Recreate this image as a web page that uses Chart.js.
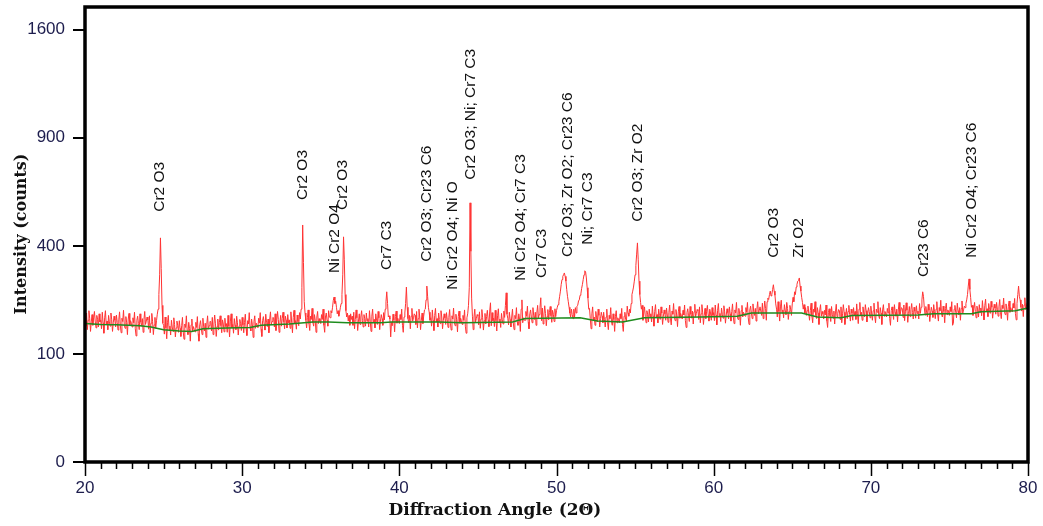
<!DOCTYPE html>
<html>
<head>
<meta charset="utf-8">
<script src="https://cdn.jsdelivr.net/npm/chart.js@4.4.1/dist/chart.umd.min.js"></script>
<style>
  body { margin: 0; background: #fff; }
  canvas { display: block; }
</style>
</head>
<body>
<canvas id="xrd" width="1043" height="526"></canvas>
<script>
// scan: 20..80 deg 2theta, 0.05 deg step
const angleStart = 20;
const angleStep = 0.05;
// measured counts, one row per degree
const counts = [
  180,158,190,150,172,196,176,146,168,186,160,178,194,170,154,184,174,156,188,168,
  172,152,192,166,142,178,196,162,170,150,184,168,158,190,174,146,166,182,172,156,
  185,167,149,173,193,159,143,177,169,197,161,153,181,167,139,175,189,159,171,165,
  156,178,166,192,152,136,172,182,164,150,188,168,158,176,144,174,194,162,170,180,
  173,151,183,143,165,189,169,139,161,179,153,171,187,200,240,300,430,320,210,165,
  160,140,180,154,130,166,184,150,158,138,172,156,146,178,162,134,154,170,160,144,
  171,153,135,159,179,145,129,163,155,183,147,139,167,153,125,161,175,145,157,151,
  145,167,155,181,141,125,161,171,153,139,177,157,147,165,133,163,183,151,159,169,
  169,147,179,139,161,185,165,135,157,175,149,167,183,159,143,173,163,145,177,157,
  164,144,184,158,134,170,188,154,162,142,176,160,150,182,166,138,158,174,164,148,
  179,161,143,167,187,153,137,171,163,191,155,147,175,161,133,169,183,153,165,159,
  155,177,165,191,151,135,171,181,163,149,187,167,157,175,143,173,193,161,169,179,
  178,156,188,148,170,194,174,144,166,184,158,176,192,168,152,182,172,154,186,166,
  173,153,193,167,143,179,197,163,171,151,185,169,159,191,175,200,260,481,340,220,
  190,172,154,178,198,164,148,182,174,202,166,158,186,172,144,180,194,164,176,170,
  164,186,174,200,160,144,180,190,172,158,196,180,178,196,190,205,224,233,215,222,
  205,188,196,182,192,205,215,240,300,434,350,240,196,180,190,170,184,160,188,174,
  182,160,192,152,174,198,178,148,170,188,162,180,196,172,156,186,176,158,190,170,
  176,156,196,170,146,182,200,166,174,154,188,172,162,194,178,150,170,186,176,160,
  191,173,200,220,248,215,180,183,175,134,167,159,187,173,145,181,195,165,177,171,
  164,186,174,200,160,144,180,190,215,262,205,176,166,184,152,182,202,170,178,188,
  184,162,194,154,176,200,180,150,172,190,164,182,198,200,225,265,235,205,192,172,
  178,158,198,172,148,184,202,168,176,156,190,174,164,196,180,152,172,188,178,162,
  191,173,155,179,199,165,149,183,175,203,167,159,187,173,145,181,195,165,177,171,
  162,184,172,198,158,142,178,188,210,260,575,380,230,182,150,180,200,168,176,186,
  183,161,193,153,175,199,179,149,171,189,163,181,197,173,157,195,217,159,191,171,
  177,157,197,171,147,183,201,167,175,155,189,173,163,195,179,210,245,187,177,161,
  192,174,156,180,200,166,150,184,176,204,168,160,188,174,146,200,225,166,178,172,
  172,194,182,208,168,152,188,198,180,166,204,184,174,192,160,190,210,178,186,205,
  231,171,203,163,185,209,189,159,181,199,173,191,207,183,167,197,187,169,201,181,
  196,205,212,220,235,250,270,285,295,300,306,295,280,255,235,220,205,190,180,200,
  186,176,200,180,204,190,208,210,222,225,238,242,258,270,285,300,313,310,290,260,
  230,200,202,176,152,188,206,172,180,160,194,178,168,200,184,156,176,192,182,166,
  192,174,156,180,200,166,150,184,176,204,168,160,188,174,146,182,196,166,178,172,
  166,188,176,202,162,146,182,192,174,170,208,190,182,200,190,215,240,250,262,280,
  300,330,370,411,350,280,240,218,200,210,172,190,206,182,166,196,186,168,200,180,
  188,168,208,182,158,194,212,178,186,166,200,184,174,206,190,162,182,198,188,172,
  203,185,167,191,211,177,161,195,187,215,179,171,199,185,157,193,207,177,189,183,
  175,197,185,211,171,155,191,201,183,169,207,187,177,195,163,193,213,181,189,199,
  196,174,206,166,188,212,192,162,184,202,176,194,210,186,170,200,190,172,204,184,
  191,171,211,185,161,197,215,181,189,169,203,187,177,209,193,165,185,201,191,175,
  206,188,170,194,214,180,164,198,190,218,182,174,202,188,160,196,210,180,192,186,
  182,204,192,218,178,162,198,208,190,176,214,194,184,202,170,200,220,188,196,206,
  206,184,216,176,198,222,202,172,220,230,226,240,250,236,240,255,269,250,238,214,
  200,180,220,194,170,206,224,190,198,178,212,196,186,218,202,174,194,210,200,184,
  214,232,220,248,240,262,270,280,282,290,265,250,232,218,200,212,190,204,184,196,
  208,190,172,196,216,182,166,200,192,220,184,176,204,190,162,198,212,182,194,188,
  175,197,185,211,171,155,191,201,183,169,207,187,177,195,163,193,213,181,189,199,
  196,174,206,166,188,212,192,162,184,202,176,194,210,186,170,200,190,172,204,184,
  194,174,214,188,164,200,218,184,192,172,206,190,180,212,196,168,188,204,194,178,
  208,190,172,196,216,182,166,200,192,220,184,176,204,190,162,198,212,182,194,188,
  180,202,190,216,176,160,196,206,188,174,212,192,182,200,168,198,218,186,194,204,
  201,179,211,171,193,217,197,167,189,207,181,199,215,191,175,205,195,177,209,189,
  195,175,215,189,205,225,248,235,205,185,207,191,181,213,197,169,189,205,195,179,
  212,194,176,200,220,186,170,204,196,224,188,180,208,194,166,202,216,186,198,192,
  184,206,194,220,160,164,200,210,192,178,216,196,186,204,172,202,222,190,198,208,
  204,215,225,240,265,287,255,232,205,210,184,202,218,194,178,208,198,180,212,192,
  203,183,223,197,173,209,227,193,201,181,215,199,189,221,205,177,197,213,203,187,
  218,200,182,206,226,192,176,210,202,230,194,186,214,200,172,208,222,192,204,198,
  193,215,203,229,189,173,215,240,265,235,225,205,195,213,181,211,231,199,207,217,
  210
];

// fitted background (green)
const bgAngle = [20, 21, 22, 23.5, 24.2, 25.0, 26.0, 26.8, 27.5, 29, 30.5, 31.2, 33, 34.5, 35.5, 36.7, 38.8, 39.5, 42.5, 44, 47.2, 48, 51.5, 52.6, 54.2, 55.6, 59.2, 61.5, 62.4, 65.6, 66.6, 68.1, 68.8, 73, 74, 76.4, 77, 79.2, 80];
const bgCounts = [164, 162, 161, 159, 156, 150, 147, 146, 152, 154, 155, 160, 163, 168, 168, 166, 166, 168, 168, 166, 168, 176, 178, 170, 168, 178, 180, 182, 190, 190, 180, 178, 184, 185, 188, 188, 193, 196, 203];

// phase labels: text, angle, counts where the label starts
const phaseText = [
  "Cr2 O3", "Cr2 O3", "Ni Cr2 O4", "Cr2 O3", "Cr7 C3", "Cr2 O3; Cr23 C6",
  "Ni Cr2 O4; Ni O", "Cr2 O3; Ni; Cr7 C3", "Ni Cr2 O4; Cr7 C3", "Cr7 C3",
  "Cr2 O3; Zr O2; Cr23 C6", "Ni; Cr7 C3", "Cr2 O3; Zr O2", "Cr2 O3", "Zr O2",
  "Cr23 C6", "Ni Cr2 O4; Cr23 C6"
];
const phaseAngle = [24.75, 33.85, 35.9, 36.4, 39.2, 41.76, 43.42, 44.57, 47.7, 49.04, 50.7, 51.97, 55.16, 63.84, 65.44, 73.35, 76.41];
const phaseCounts = [536, 588, 306, 544, 316, 343, 254, 682, 281, 290, 360, 404, 494, 357, 357, 293, 357];

const yTicks = [0, 100, 400, 900, 1600];
const xTitle = "Diffraction Angle (2\u0398)";
const yTitle = "Intensity (counts)";

// y axis is square-root scaled
const trace = counts.map((c, i) => ({ x: angleStart + i * angleStep, y: Math.sqrt(c) }));
const background = bgAngle.map((a, i) => ({ x: a, y: Math.sqrt(bgCounts[i]) }));

const tickColor = "#1d1d4d";

// frame, tick marks, axis titles and phase labels
const decor = {
  id: "decor",
  afterDatasetsDraw(chart) {
    const { ctx, chartArea: a, scales } = chart;
    const xs = scales.x, ys = scales.y;
    ctx.save();

    ctx.font = "15.5px 'Liberation Sans', Arial, sans-serif";
    ctx.fillStyle = "#111";
    ctx.textAlign = "left";
    ctx.textBaseline = "middle";
    phaseText.forEach((t, i) => {
      const px = xs.getPixelForValue(phaseAngle[i]);
      const py = ys.getPixelForValue(Math.sqrt(phaseCounts[i]));
      ctx.save();
      ctx.translate(px, py);
      ctx.rotate(-Math.PI / 2);
      ctx.fillText(t, 0, 0);
      ctx.restore();
    });

    // axis titles
    ctx.textAlign = "center";
    ctx.font = "bold 17px 'DejaVu Serif', serif";
    ctx.fillText(xTitle, 495, 511);
    ctx.save();
    ctx.translate(22, 234);
    ctx.rotate(-Math.PI / 2);
    ctx.font = "bold 16px 'DejaVu Serif', serif";
    ctx.fillText(yTitle, 0, 0);
    ctx.restore();

    ctx.strokeStyle = "#000";
    ctx.lineWidth = 1.5;
    ctx.beginPath();
    for (let d = 20; d <= 80; d++) {
      const px = Math.round(xs.getPixelForValue(d)) + 0.5;
      const len = d % 10 === 0 ? 14 : 7;
      ctx.moveTo(px, a.bottom);
      ctx.lineTo(px, a.bottom + len);
    }
    ctx.stroke();

    ctx.lineWidth = 2;
    ctx.beginPath();
    yTicks.forEach((v) => {
      const py = Math.round(ys.getPixelForValue(Math.sqrt(v)));
      ctx.moveTo(a.left, py);
      ctx.lineTo(a.left - 12, py);
    });
    ctx.stroke();

    ctx.lineWidth = 3.5;
    ctx.strokeRect(a.left, a.top, a.right - a.left, a.bottom - a.top);
    ctx.restore();
  }
};

new Chart(document.getElementById("xrd"), {
  type: "line",
  data: {
    datasets: [
      {
        label: "Background",
        data: background,
        borderColor: "#1e8c1e",
        borderWidth: 1.5,
        pointRadius: 0,
        tension: 0
      },
      {
        label: "Intensity",
        data: trace,
        borderColor: "#ff3333",
        borderWidth: 1,
        pointRadius: 0,
        tension: 0
      }
    ]
  },
  options: {
    responsive: false,
    animation: false,
    layout: { padding: { top: 7, right: 15, left: 0, bottom: 0 } },
    plugins: {
      legend: { display: false },
      tooltip: { enabled: false }
    },
    scales: {
      x: {
        type: "linear",
        min: 20,
        max: 80,
        grid: { display: false, drawTicks: false },
        border: { display: false },
        ticks: {
          stepSize: 10,
          padding: 16,
          color: tickColor,
          font: { family: "'Liberation Sans', Arial, sans-serif", size: 17 }
        },
        afterFit(scale) {
          scale.height = 64;
          scale.paddingLeft = 0;
          scale.paddingRight = 0;
        }
      },
      y: {
        type: "linear",
        min: 0,
        max: 42.1,
        grid: { display: false, drawTicks: false },
        border: { display: false },
        ticks: {
          stepSize: 10,
          includeBounds: false,
          padding: 20,
          color: tickColor,
          font: { family: "'Liberation Sans', Arial, sans-serif", size: 17 },
          callback: (v) => String(Math.round(v * v))
        },
        afterFit(scale) {
          scale.width = 85;
          scale.paddingTop = 0;
          scale.paddingBottom = 0;
        }
      }
    }
  },
  plugins: [decor]
});
</script>
</body>
</html>
